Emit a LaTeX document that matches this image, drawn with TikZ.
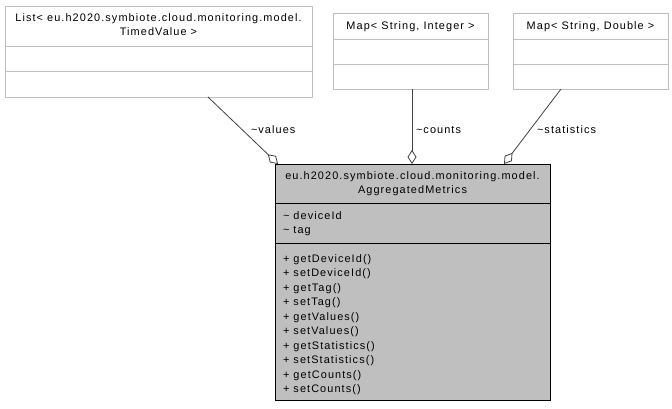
\documentclass[tikz,border=0pt]{standalone}
\usepackage{fontspec}
\setmainfont{Liberation Sans}[LetterSpace=10]
\usetikzlibrary{arrows.meta}
\definecolor{boxgray}{RGB}{191,191,191}
\definecolor{linegray}{RGB}{64,64,64}
\definecolor{bordergray}{RGB}{191,191,191}
\begin{document}
\begin{tikzpicture}[x=1pt,y=-1pt,
  txt/.style={inner sep=0pt, outer sep=0pt, font=\fontsize{10.9}{14.5}\selectfont},
  whitebox/.style={draw=bordergray, fill=white, line width=1pt, inner sep=0pt, outer sep=0pt, anchor=north west},
  mainbox/.style={draw=black, fill=boxgray, line width=1pt, inner sep=0pt, outer sep=0pt, anchor=north west},
  sepline/.style={draw=bordergray, line width=1pt},
  mainsep/.style={draw=black, line width=1pt},
  assoc/.style={draw=linegray, line width=0.8pt, -{Diamond[open, length=14pt, width=9pt]}},
  lbl/.style={txt, anchor=base west},
  ]
\useasboundingbox (0,0) rectangle (672,408);
% boxes
\node[whitebox, minimum width=307pt, minimum height=91pt] (list) at (5,6) {};
\node[whitebox, minimum width=155pt, minimum height=76pt] (mapi) at (333,13) {};
\node[whitebox, minimum width=155pt, minimum height=76pt] (mapd) at (513,13) {};
\node[mainbox, minimum width=275pt, minimum height=236pt] (main) at (275,164) {};
% separators
\draw[sepline] (5,46) -- (312,46);
\draw[sepline] (5,71) -- (312,71);
\draw[sepline] (333,39) -- (488,39);
\draw[sepline] (333,64) -- (488,64);
\draw[sepline] (513,39) -- (668,39);
\draw[sepline] (513,64) -- (668,64);
\draw[mainsep] (275,203.5) -- (550,203.5);
\draw[mainsep] (275,243.5) -- (550,243.5);
% texts
\node[txt, anchor=base] (listt1) at (158.5,21.5) {List< eu.h2020.symbiote.cloud.monitoring.model.};
\node[txt, anchor=base] (listt2) at (158.5,35.5) {TimedValue >};
\node[txt, anchor=base] (mapit) at (410.5,29) {Map< String, Integer >};
\node[txt, anchor=base] (mapdt) at (590.5,29) {Map< String, Double >};
\node[txt, anchor=base] (maint1) at (412.5,179) {eu.h2020.symbiote.cloud.monitoring.model.};
\node[txt, anchor=base] (maint2) at (412.5,193.5) {AggregatedMetrics};
\node[lbl] (a1) at (283,219) {\textasciitilde{} deviceId};
\node[lbl] (a2) at (283,233.5) {\textasciitilde{} tag};
\foreach [count=\i] \t in {getDeviceId(),setDeviceId(),getTag(),setTag(),getValues(),setValues(),getStatistics(),setStatistics(),getCounts(),setCounts()}
  \node[lbl] (m\i) at (283,{262.3+14.5*(\i-1)}) {+ \t};
% connectors
\draw[assoc] ([xshift=49.5pt]list.south) -- ([xshift=3pt]main.north west);
\draw[assoc] ([xshift=1.5pt]mapi.south) -- ([xshift=-0.5pt]main.north);
\draw[assoc] ([xshift=-29.5pt]mapd.south) -- ([xshift=-46pt]main.north east);
% labels
\node[lbl] (lv) at (251,133) {\textasciitilde values};
\node[lbl] (lc) at (416,133) {\textasciitilde counts};
\node[lbl] (ls) at (537,133) {\textasciitilde statistics};
\end{tikzpicture}
\end{document}
